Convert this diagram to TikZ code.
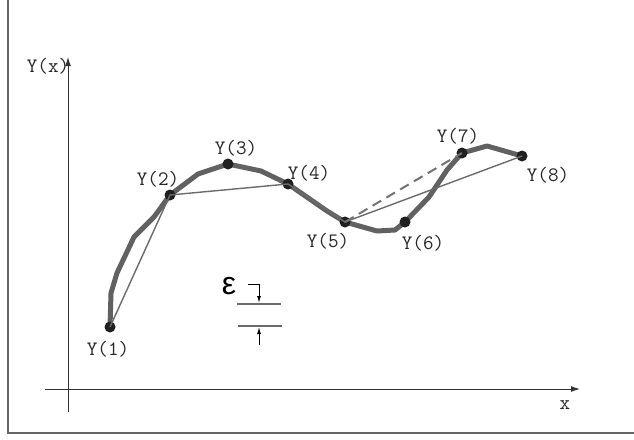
\documentclass[tikz,border=0pt]{standalone}
\usepackage{fontspec}
\newfontfamily\epsfont{Liberation Sans}
\usetikzlibrary{arrows.meta,positioning}
\tikzset{pt/.style={circle,fill=black!88,inner sep=0pt,minimum size=11pt},
 lbl/.style={font=\ttfamily\fontsize{20.5}{21}\selectfont,inner sep=0pt,text=black!85},
 crv/.style={line width=5pt,draw=black!62,line join=round,line cap=round},
 chord/.style={line width=1.4pt,draw=black!58},
 dsh/.style={line width=2pt,draw=black!55,dash pattern=on 10pt off 6pt},
 ax/.style={line width=1pt,-{Latex[length=9pt,width=6pt]}},
 tk/.style={line width=1pt,-{Latex[length=7pt,width=4pt]}}}
\begin{document}
\begin{tikzpicture}[x=1pt,y=-1pt]
\useasboundingbox (0,0) rectangle (634,439);
\draw[line width=1.2pt,black!60] (8,0) |- (634,433);
% axes
\coordinate (o1) at (68,412);\coordinate (o2) at (68,57);
\coordinate (o3) at (45,389);\coordinate (o4) at (580,389);
\draw[ax,black!80] (o1)--(o2);
\draw[ax,black!80] (o3)--(o4);
\node[lbl] (ly) at (48,66) {Y(x)};
\node[lbl] (lx) at (565,405) {x};
% sample points
\foreach \n/\x/\y in {1/110/327,2/170/195,3/228/164,4/288/184,5/345/222,6/405/222,7/462/153,8/522/156}
 \coordinate (c\n) at (\x,\y);
\draw[crv] (c1)--(111,293)--(117,273)--(134,237)--(154,217)--(c2)--(198,174)--(c3)--(261,171)--(c4)
 --(327,211)--(c5)--(377,231)--(395,230)--(c6)--(429,197)--(447,170)--(c7)--(487,146)--(c8);
\foreach \n in {1,...,8} \node[pt] (y\n) at (c\n) {};
\draw[chord] (y1.center)--(y2.center)--(y4.center)--(y5.center)--(y8.center);
\draw[dsh] (y5.center)--(y7.center);
\foreach \n/\x/\y in {1/108/349,2/158/179,3/236/148,4/309/173,5/328/241,6/423/243,7/458/136,8/548/175}
 \node[lbl] (l\n) at (\x,\y) {Y(\n)};
% tolerance
\node[font=\epsfont\fontsize{32}{32}\selectfont,inner sep=0pt] (eps) at (229,286) {ε};
\draw[tk] (248,284)-|(259,303);
\draw[chord,line width=1.2pt] (237,304)--(281,304) (238,326)--(282,326);
\draw[tk] (259,345)--(259,327);
\end{tikzpicture}
\end{document}
